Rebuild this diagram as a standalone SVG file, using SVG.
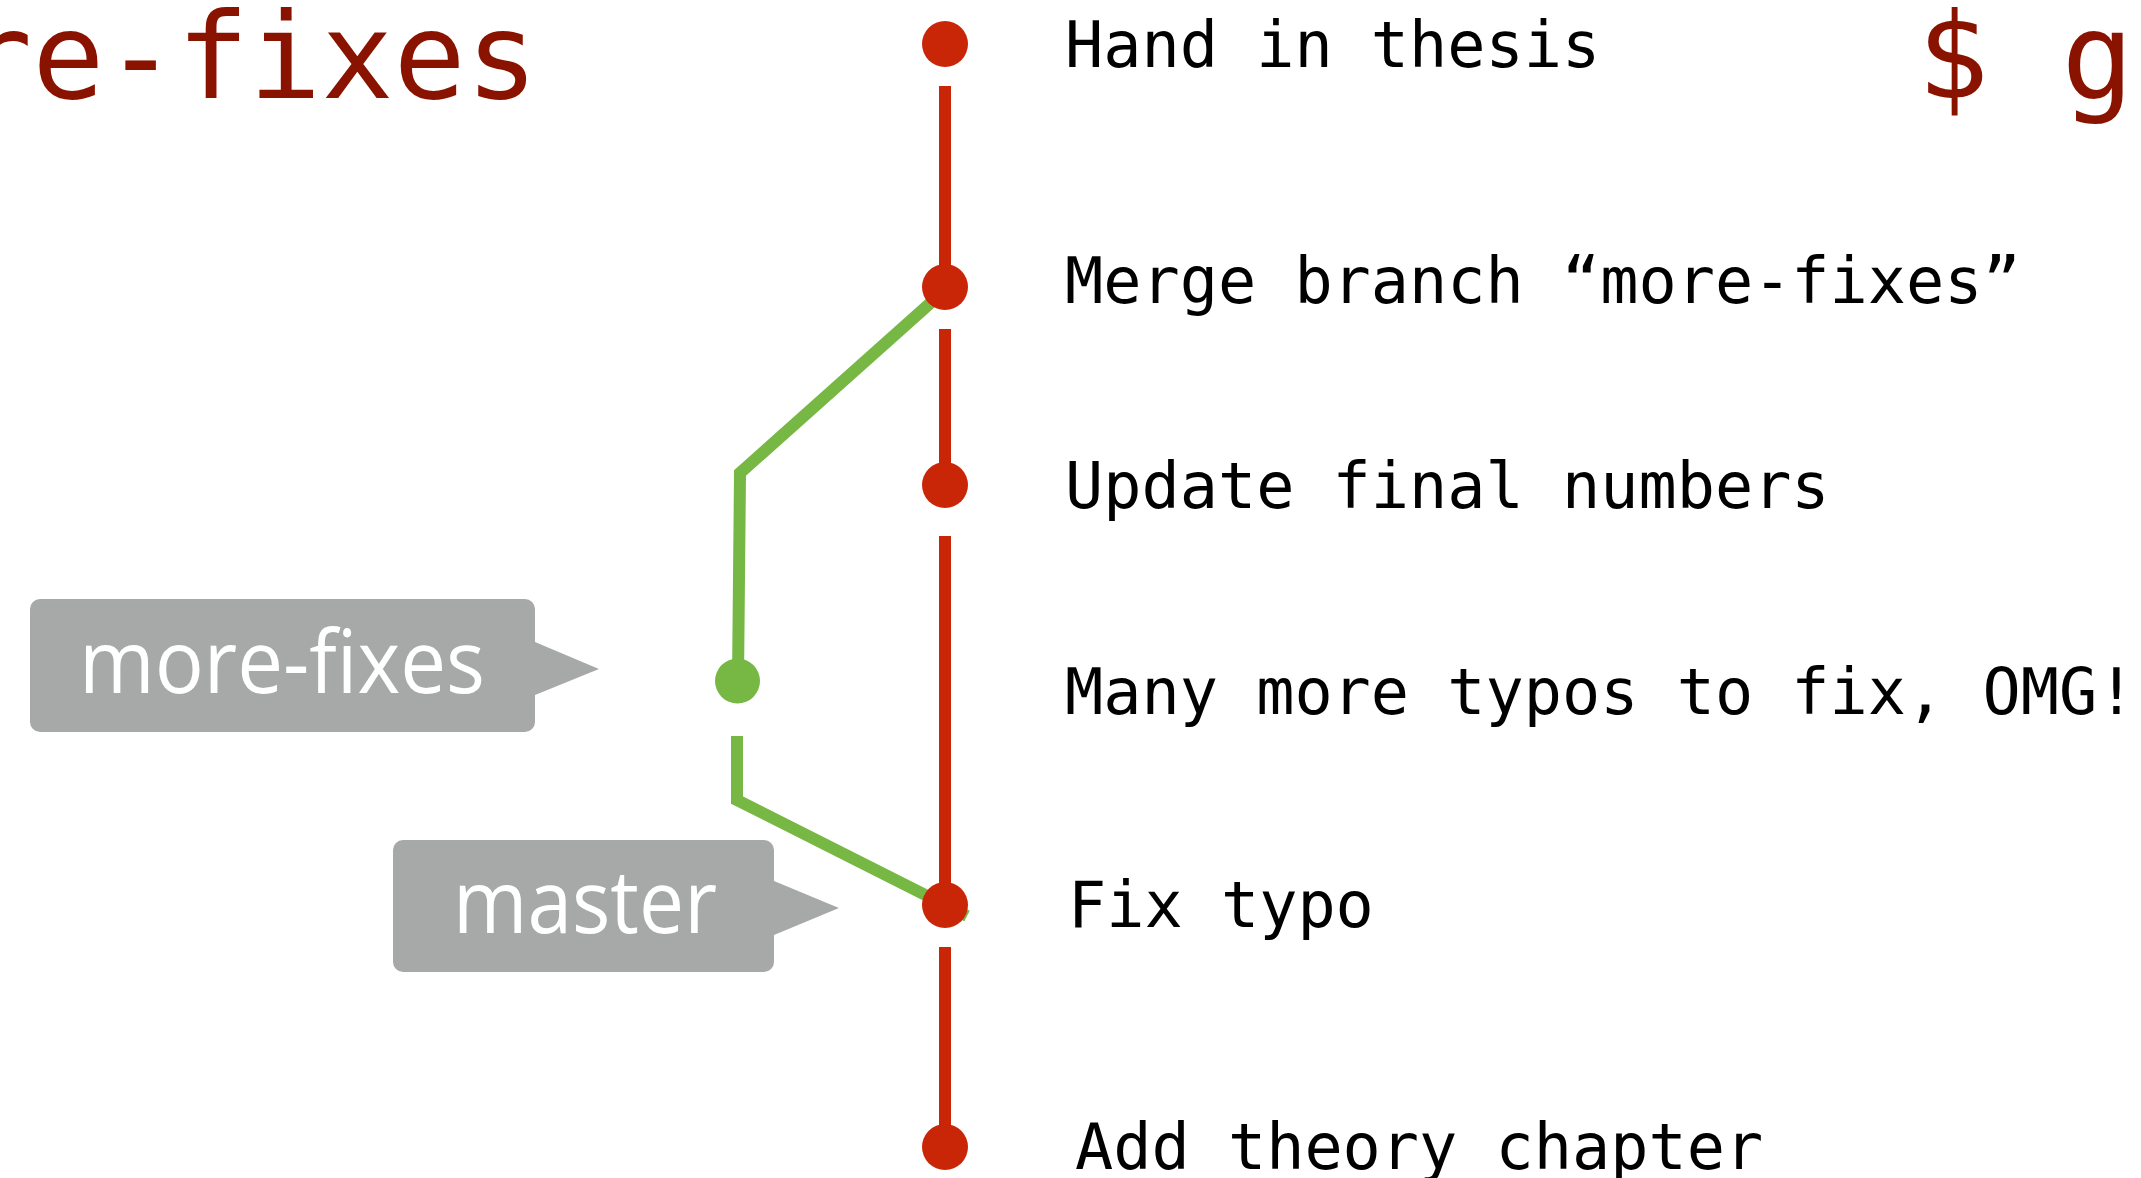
<svg xmlns="http://www.w3.org/2000/svg" width="2141" height="1178" viewBox="0 0 2141 1178">
  <style>
    .title { font-family: "DejaVu Sans Mono", "Liberation Mono", monospace; font-size: 120px; fill: #8A1300; }
    .msg { font-family: "DejaVu Sans Mono", "Liberation Mono", monospace; font-size: 63.5px; fill: #000000; }
    .tag { font-family: "Open Sans", "Noto Sans", "Liberation Sans", sans-serif; font-size: 88px; fill: #FFFFFF; }
    .tagbox { fill: #A6A9A8; }
    .master-line { fill: none; stroke: #C92607; stroke-width: 12; }
    .branch-line { fill: none; stroke: #76B843; stroke-width: 12; stroke-linejoin: miter; }
    .commit-master { fill: #C92607; }
    .commit-branch { fill: #76B843; }
  </style>

  <rect width="2141" height="1178" fill="#FFFFFF"/>

  <!-- slide titles partially in view -->
  <text class="title" x="-40" y="98">re-fixes</text>
  <text class="title" x="1917" y="98">$ g</text>

  <!-- history edges -->
  <g id="connectors">
    <line class="master-line" x1="945" y1="86" x2="945" y2="287"/>
    <line class="master-line" x1="945" y1="329" x2="945" y2="485"/>
    <line class="master-line" x1="945" y1="536" x2="945" y2="905"/>
    <line class="master-line" x1="945" y1="947" x2="945" y2="1147"/>
    <polyline class="branch-line" points="945,290 740,473 738,681"/>
    <polyline class="branch-line" points="737,736 737,800 967,916"/>
  </g>

  <!-- commits -->
  <g id="commit-hand-in-thesis">
    <circle class="commit-master" cx="945" cy="44" r="23"/>
    <text class="msg" x="1065" y="67">Hand in thesis</text>
  </g>
  <g id="commit-merge">
    <circle class="commit-master" cx="945" cy="287" r="23"/>
    <text class="msg" x="1065" y="303">Merge branch “more-fixes”</text>
  </g>
  <g id="commit-update-numbers">
    <circle class="commit-master" cx="945" cy="485" r="23"/>
    <text class="msg" x="1065" y="508">Update final numbers</text>
  </g>
  <g id="commit-many-typos">
    <circle class="commit-branch" cx="737.5" cy="681" r="22.5"/>
    <text class="msg" x="1065" y="714">Many more typos to fix, OMG!</text>
  </g>
  <g id="commit-fix-typo">
    <circle class="commit-master" cx="945" cy="905" r="23"/>
    <text class="msg" x="1068" y="927">Fix typo</text>
  </g>
  <g id="commit-add-theory">
    <circle class="commit-master" cx="945" cy="1147" r="23"/>
    <text class="msg" x="1075" y="1169">Add theory chapter</text>
  </g>

  <!-- branch pointers -->
  <g id="label-more-fixes">
    <path class="tagbox" d="M40,599 H525 A10,10 0 0 1 535,609 V642 L599,669 L535,695 V722 A10,10 0 0 1 525,732 H40 A10,10 0 0 1 30,722 V609 A10,10 0 0 1 40,599 Z"/>
    <text class="tag" x="79" y="693" textLength="406" lengthAdjust="spacingAndGlyphs">more-fixes</text>
  </g>
  <g id="label-master">
    <path class="tagbox" d="M403,840 H764 A10,10 0 0 1 774,850 V881 L839,908 L774,935 V962 A10,10 0 0 1 764,972 H403 A10,10 0 0 1 393,962 V850 A10,10 0 0 1 403,840 Z"/>
    <text class="tag" x="453" y="933" textLength="264" lengthAdjust="spacingAndGlyphs">master</text>
  </g>
</svg>
